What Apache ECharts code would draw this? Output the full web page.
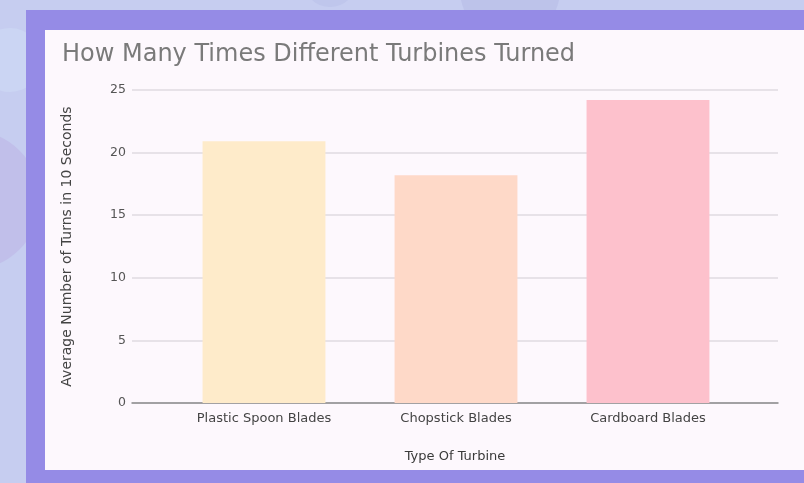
<!DOCTYPE html>
<html>
<head>
<meta charset="utf-8">
<script src="https://cdn.jsdelivr.net/npm/echarts@6/dist/echarts.min.js"></script>
<style>
  html, body { margin: 0; padding: 0; }
  #turbineChart { width: 804px; height: 483px; }
</style>
</head>
<body>
<div id="turbineChart"></div>
<script>
var categories = ["Plastic Spoon Blades", "Chopstick Blades", "Cardboard Blades"];
var turns = [20.9, 18.2, 24.2];
var barColors = ["#feebca", "#fed9c8", "#fdc1cc"];
var yTicks = [0, 5, 10, 15, 20, 25];

var chartDom = document.getElementById("turbineChart");
var myChart = echarts.init(chartDom);

var option = {
  backgroundColor: "#c6cdf0",
  textStyle: { fontFamily: "DejaVu Sans" },
  graphic: [
    { type: "circle", shape: { cx: 10, cy: 60, r: 32 }, style: { fill: "#cbd5f3" }, z: -10 },
    { type: "circle", shape: { cx: -30, cy: 200, r: 70 }, style: { fill: "#c1bfea" }, z: -10 },
    { type: "circle", shape: { cx: 330, cy: -20, r: 27 }, style: { fill: "#bfc6ec" }, z: -10 },
    { type: "circle", shape: { cx: 510, cy: -10, r: 50 }, style: { fill: "#bdc3ea" }, z: -10 },
    { type: "rect", shape: { x: 26, y: 10, width: 778, height: 473 }, style: { fill: "#958be6" }, z: -9 },
    { type: "rect", shape: { x: 45, y: 30, width: 759, height: 440 }, style: { fill: "#fdf8fd" }, z: -8 }
  ],
  title: {
    text: "How Many Times Different Turbines Turned",
    left: 57,
    top: 38,
    textStyle: { fontSize: 24, fontWeight: "normal", color: "#7a7a7a", fontFamily: "DejaVu Sans" }
  },
  grid: [
    { left: 132, right: 26, top: 90, bottom: 80 },
    { left: 168, right: 60, top: 90, bottom: 80 }
  ],
  xAxis: [
    {
      type: "category",
      gridIndex: 0,
      data: [""],
      axisLine: { lineStyle: { color: "#8c8c8c", width: 1.5 } },
      axisTick: { show: false },
      axisLabel: { show: false },
      name: "Type Of Turbine",
      nameLocation: "middle",
      nameGap: 47,
      nameTextStyle: { fontSize: 13, color: "#3a3a3a" }
    },
    {
      type: "category",
      gridIndex: 1,
      data: categories,
      axisLine: { show: false },
      axisTick: { show: false },
      axisLabel: { fontSize: 13, color: "#444444", margin: 9 }
    }
  ],
  yAxis: [
    {
      type: "value",
      gridIndex: 0,
      min: yTicks[0],
      max: yTicks[yTicks.length - 1],
      interval: 5,
      axisLabel: { fontSize: 12.5, color: "#555555", margin: 6 },
      splitLine: { lineStyle: { color: "#dfdbe0", width: 1.5 } },
      name: "Average Number of Turns in 10 Seconds",
      nameLocation: "middle",
      nameRotate: 90,
      nameGap: 58,
      nameTextStyle: { fontSize: 14, color: "#444444" }
    },
    {
      type: "value",
      gridIndex: 1,
      min: yTicks[0],
      max: yTicks[yTicks.length - 1],
      interval: 5,
      show: false,
      splitLine: { show: false }
    }
  ],
  series: [
    {
      type: "bar",
      xAxisIndex: 1,
      yAxisIndex: 1,
      barWidth: "64%",
      data: turns.map(function (v, i) {
        return { value: v, itemStyle: { color: barColors[i] } };
      })
    }
  ]
};

myChart.setOption(option);
</script>
</body>
</html>
